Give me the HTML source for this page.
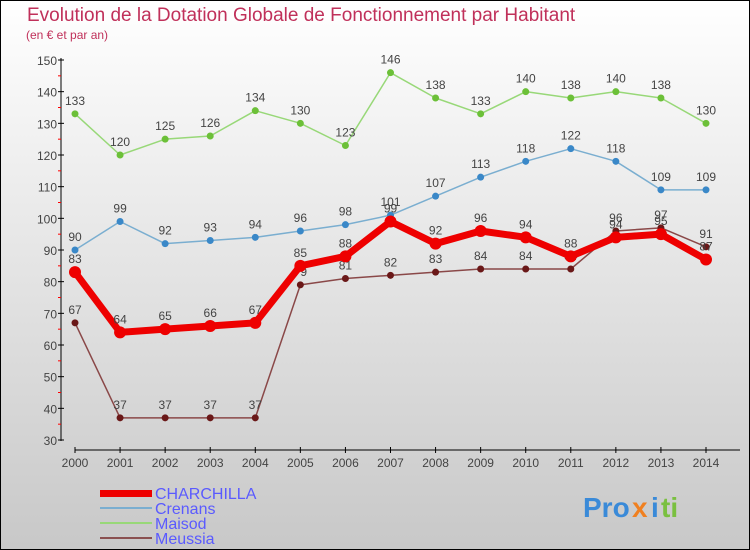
<!DOCTYPE html>
<html><head><meta charset="utf-8"><style>
body{margin:0}
svg{display:block;font-family:"Liberation Sans",sans-serif}
</style></head><body>
<svg width="750" height="550" xmlns="http://www.w3.org/2000/svg">
<defs><linearGradient id="bg" x1="0" y1="0" x2="0" y2="1"><stop offset="0" stop-color="#ffffff"/><stop offset="1" stop-color="#c8c8c8"/></linearGradient></defs>
<rect x="0.5" y="0.5" width="749" height="549" fill="url(#bg)" stroke="#000"/>
<text x="27" y="21" font-size="19" fill="#c0305a">Evolution de la Dotation Globale de Fonctionnement par Habitant</text>
<text x="26" y="39" font-size="12" fill="#c0305a">(en € et par an)</text>
<g id="axes"></g>
<g id="series"></g>
<g id="legend" font-size="16" fill="#5a5aff">
<rect x="100" y="490" width="52" height="7" fill="#e00"/>
<text x="155" y="499">CHARCHILLA</text>
<rect x="100" y="507" width="52" height="2" fill="#7aaed0"/>
<text x="155" y="514">Crenans</text>
<rect x="100" y="522" width="52" height="2" fill="#98d878"/>
<text x="155" y="529">Maisod</text>
<rect x="100" y="537" width="52" height="2" fill="#8a5050"/>
<text x="155" y="544">Meussia</text>
</g>
<g font-size="28" font-weight="bold">
<text x="583" y="517" fill="#3a8ad8">Pro</text><text x="632" y="517" fill="#f08020">x</text><text x="651" y="517" fill="#3a8ad8">i</text><text x="661" y="517" fill="#7ac040">ti</text>
</g>
</svg>
<script>
const years=[2000,2001,2002,2003,2004,2005,2006,2007,2008,2009,2010,2011,2012,2013,2014];
const yTicks=[30,40,50,60,70,80,90,100,110,120,130,140,150];
const charchilla=[83,64,65,66,67,85,88,99,92,96,94,88,94,95,87];
const crenans=[90,99,92,93,94,96,98,101,107,113,118,122,118,109,109];
const maisod=[133,120,125,126,134,130,123,146,138,133,140,138,140,138,130];
const meussia=[67,37,37,37,37,79,81,82,83,84,84,84,96,97,91];
const NS="http://www.w3.org/2000/svg";
const xs=i=>75+i*(706-75)/(years.length-1);
const ys=v=>60+(150-v)*(380/120);
function mk(t,a,p){const e=document.createElementNS(NS,t);for(const k in a)e.setAttribute(k,a[k]);if(p)p.appendChild(e);return e;}
const ax=document.getElementById('axes');
let e=mk('line',{x1:61,y1:58,x2:61,y2:441,stroke:'#000'},ax);


e=mk('line',{x1:75,y1:450,x2:740,y2:450,stroke:'#000'},ax);


yTicks.forEach((v,i)=>{
 mk('line',{x1:58,y1:ys(v),x2:64,y2:ys(v),stroke:'#000'},ax);
 if(i<yTicks.length-1) mk('line',{x1:58,y1:ys(v+5),x2:61,y2:ys(v+5),stroke:'#f00'},ax);
 const t=mk('text',{x:57,y:ys(v)+5,'font-size':12,fill:'#444','text-anchor':'end'},ax);t.textContent=v;
 
 
});
years.forEach((y,i)=>{
 mk('line',{x1:xs(i),y1:447,x2:xs(i),y2:453,stroke:'#000'},ax);
 const t=mk('text',{x:xs(i),y:467,'font-size':12,fill:'#444','text-anchor':'middle'},ax);t.textContent=y;
 
 
});
const sg=document.getElementById('series');
function draw(name,data,col,w,r,dot){
 const g=mk('g',{},sg);
 
 
 const l=mk('polyline',{points:data.map((v,i)=>xs(i)+','+ys(v)).join(' '),fill:'none',stroke:col,'stroke-width':w,'stroke-linejoin':'round'},g);
 
 
 data.forEach((v,i)=>{
  const c=mk('circle',{cx:xs(i),cy:ys(v),r:r,fill:dot},g);
  
  
  const t=mk('text',{x:xs(i),y:ys(v)-9,'font-size':12,fill:'#444','text-anchor':'middle'},g);t.textContent=v;
  
  
 });
}
draw('maisod',maisod,'#98d878',1.5,3.5,'#6cc038');
draw('crenans',crenans,'#7aaed0',1.5,3.5,'#3a88c8');
draw('meussia',meussia,'#8a4848',1.5,3.5,'#6a1818');
draw('charchilla',charchilla,'#e00',7,6,'#e00');
</script>
</body></html>
